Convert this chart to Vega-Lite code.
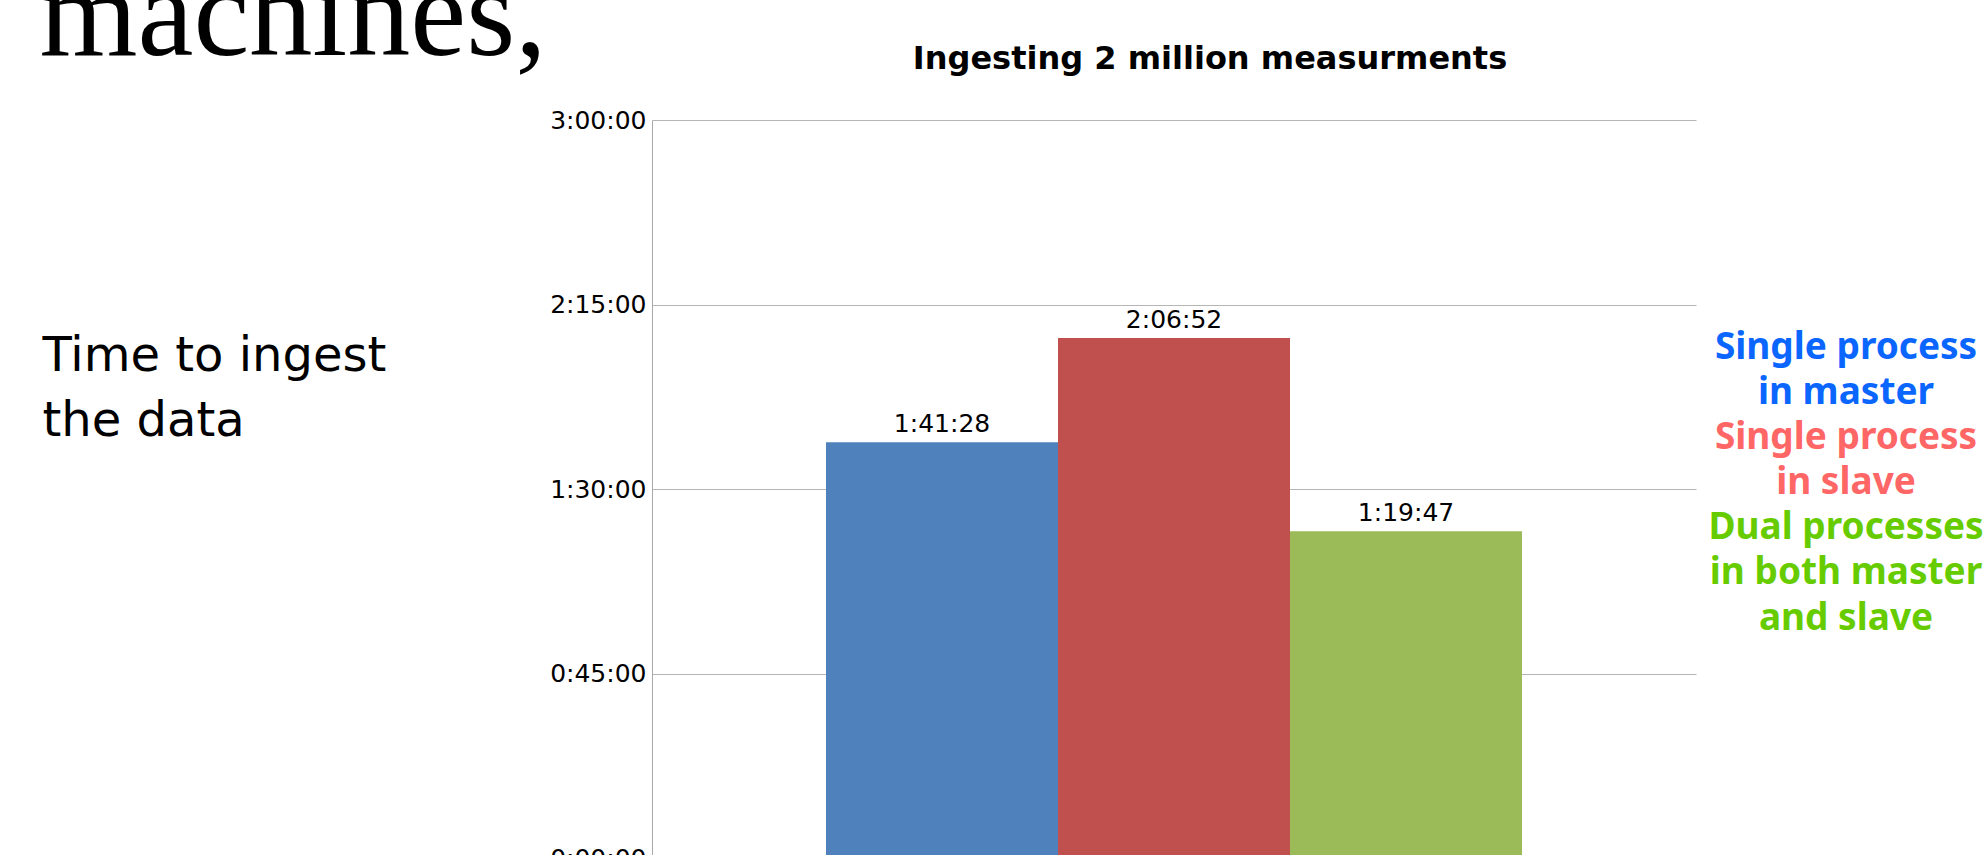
{
  "$schema": "https://vega.github.io/schema/vega-lite/v6.json",
  "width": 1044,
  "height": 738.5,
  "autosize": {"type": "none"},
  "padding": {"left": 652, "top": 120, "right": 288, "bottom": 0},
  "background": "white",
  "config": {"view": {"stroke": null}},
  "title": {
    "text": "Ingesting 2 million measurments",
    "font": "DejaVu Sans",
    "fontSize": 32,
    "fontWeight": "bold",
    "color": "black",
    "anchor": "middle",
    "frame": "group",
    "baseline": "alphabetic",
    "offset": 0,
    "dx": 36,
    "dy": 148
  },
  "data": {
    "values": [
      {"setup": "Single process in master", "seconds": 6088},
      {"setup": "Single process in slave", "seconds": 7612},
      {"setup": "Dual processes in both master and slave", "seconds": 4787}
    ]
  },
  "transform": [
    {
      "calculate": "floor(datum.seconds / 3600) + ':' + (floor(datum.seconds % 3600 / 60) < 10 ? '0' : '') + floor(datum.seconds % 3600 / 60) + ':' + (datum.seconds % 60 < 10 ? '0' : '') + (datum.seconds % 60)",
      "as": "duration"
    }
  ],
  "encoding": {
    "x": {
      "field": "setup",
      "type": "nominal",
      "sort": null,
      "scale": {"paddingInner": 0, "paddingOuter": 0.75},
      "axis": {
        "orient": "top",
        "labels": false,
        "ticks": false,
        "domain": false,
        "grid": false,
        "title": "machines,",
        "titleFont": "Liberation Serif",
        "titleFontSize": 126,
        "titleFontWeight": "normal",
        "titleColor": "black",
        "titleAngle": 0,
        "titleAlign": "left",
        "titleBaseline": "alphabetic",
        "titleX": -613,
        "titleY": -66
      }
    },
    "y": {
      "field": "seconds",
      "type": "quantitative",
      "scale": {"domain": [0, 10800], "nice": false},
      "axis": {
        "values": [0, 2700, 5400, 8100, 10800],
        "labelExpr": "floor(datum.value / 3600) + ':' + (floor(datum.value % 3600 / 60) < 10 ? '0' : '') + floor(datum.value % 3600 / 60) + ':' + (datum.value % 60 < 10 ? '0' : '') + (datum.value % 60)",
        "ticks": false,
        "grid": true,
        "gridColor": "#b5b5b5",
        "gridWidth": 1,
        "domainColor": "#a8a8a8",
        "domainWidth": 1,
        "labelFont": "DejaVu Sans",
        "labelFontSize": 25,
        "labelColor": "black",
        "labelPadding": 6,
        "labelFlush": false,
        "labelOverlap": false,
        "title": ["Time to ingest", "the data"],
        "titleFont": "DejaVu Sans",
        "titleFontSize": 48,
        "titleFontWeight": "normal",
        "titleColor": "black",
        "titleAngle": 0,
        "titleAlign": "left",
        "titleBaseline": "alphabetic",
        "titleLineHeight": 65,
        "titleX": -610,
        "titleY": 250
      }
    }
  },
  "layer": [
    {
      "mark": {"type": "bar"},
      "encoding": {
        "color": {
          "field": "setup",
          "type": "nominal",
          "sort": null,
          "scale": {
            "domain": ["Single process in master", "Single process in slave", "Dual processes in both master and slave"],
            "range": ["#4f81bd", "#c0504d", "#9bbb59"]
          },
          "legend": {
            "orient": "none",
            "legendX": 1157,
            "legendY": 209,
            "title": null,
            "symbolSize": 0,
            "symbolStrokeWidth": 0,
            "symbolOpacity": 0,
            "labelOffset": 0,
            "labelAlign": "center",
            "labelFont": "Noto Sans",
            "labelFontSize": 37,
            "labelFontWeight": "bold",
            "labelLimit": 600,
            "rowPadding": 7,
            "labelExpr": "datum.label === 'Single process in master' ? ['Single process', 'in master'] : datum.label === 'Single process in slave' ? ['Single process', 'in slave'] : ['Dual processes', 'in both master', 'and slave']",
            "encode": {
              "labels": {
                "update": {
                  "fill": {"signal": "datum.value === 'Single process in master' ? '#0a66ff' : datum.value === 'Single process in slave' ? '#ff6666' : '#66cc00'"},
                  "lineHeight": {"value": 45.5}
                }
              }
            }
          }
        }
      }
    },
    {
      "mark": {
        "type": "text",
        "baseline": "alphabetic",
        "dy": -10,
        "font": "DejaVu Sans",
        "fontSize": 25,
        "color": "black"
      },
      "encoding": {"text": {"field": "duration", "type": "nominal"}}
    }
  ]
}
